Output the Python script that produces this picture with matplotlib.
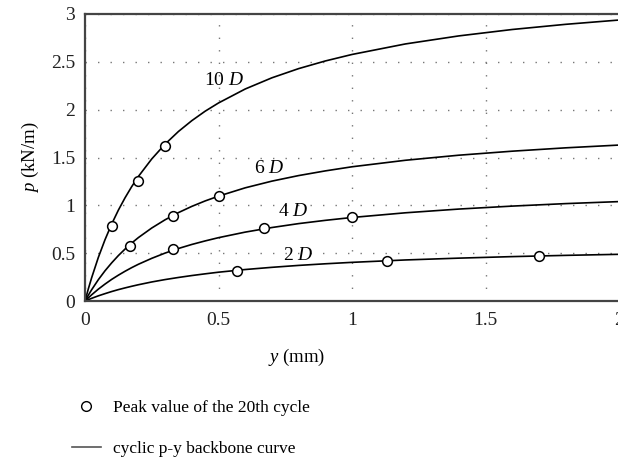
import numpy as np
import matplotlib
matplotlib.use("Agg")
import matplotlib.pyplot as plt
from matplotlib.lines import Line2D

plt.rcParams['font.family'] = ['Liberation Serif', 'DejaVu Serif']
plt.rcParams['mathtext.fontset'] = 'custom'
plt.rcParams['mathtext.rm'] = 'Liberation Serif'
plt.rcParams['mathtext.it'] = 'Liberation Serif:italic'

## Backbone curves, p (kN/m) against y (mm)
y_curve = [0, 0.0125, 0.025, 0.05, 0.075, 0.1, 0.125, 0.15, 0.175, 0.2, 0.25,
           0.3, 0.35, 0.4, 0.45, 0.5, 0.6, 0.7, 0.8, 0.9,
           1.0, 1.2, 1.4, 1.6, 1.8, 2.0]
p_10d = [0, 0.127, 0.244, 0.456, 0.641, 0.805, 0.950, 1.079, 1.196, 1.302, 1.485,
         1.640, 1.772, 1.885, 1.984, 2.070, 2.216, 2.333, 2.429, 2.509,
         2.577, 2.687, 2.771, 2.838, 2.892, 2.937]
p_6d = [0, 0.061, 0.118, 0.223, 0.316, 0.399, 0.475, 0.543, 0.606, 0.663, 0.763,
        0.849, 0.924, 0.989, 1.046, 1.096, 1.183, 1.253, 1.311, 1.360,
        1.403, 1.471, 1.524, 1.566, 1.601, 1.630]
p_4d = [0, 0.033, 0.065, 0.124, 0.177, 0.226, 0.270, 0.311, 0.349, 0.384, 0.446,
        0.501, 0.549, 0.591, 0.628, 0.662, 0.720, 0.768, 0.809, 0.843,
        0.873, 0.922, 0.961, 0.992, 1.018, 1.039]
p_2d = [0, 0.014, 0.028, 0.054, 0.077, 0.099, 0.119, 0.137, 0.154, 0.170, 0.199,
        0.224, 0.246, 0.266, 0.284, 0.301, 0.329, 0.352, 0.372, 0.389,
        0.404, 0.429, 0.448, 0.464, 0.477, 0.488]

## Peak values of the 20th cycle
y_pk_10d = [0.10, 0.20, 0.30]
p_pk_10d = [0.78, 1.25, 1.62]
y_pk_6d = [0.17, 0.33, 0.50]
p_pk_6d = [0.58, 0.89, 1.10]
y_pk_4d = [0.33, 0.67, 1.00]
p_pk_4d = [0.54, 0.76, 0.88]
y_pk_2d = [0.57, 1.13, 1.70]
p_pk_2d = [0.31, 0.42, 0.47]

labels = ['10 $D$', '6 $D$', '4 $D$', '2 $D$']
label_xy = [(0.52, 2.31), (0.69, 1.38), (0.78, 0.94), (0.80, 0.48)]

fig = plt.figure(figsize=(6.18, 4.62), dpi=100)
ax = fig.add_axes([85/618, 161/462, 534/618, 287/462])

for p in [p_10d, p_6d, p_4d, p_2d]:
    ax.plot(y_curve, p, color='k', lw=1.2)

for yy, pp in [(y_pk_10d, p_pk_10d), (y_pk_6d, p_pk_6d),
               (y_pk_4d, p_pk_4d), (y_pk_2d, p_pk_2d)]:
    ax.plot(yy, pp, 'o', mfc='white', mec='k', ms=7, mew=1.1, zorder=3)

for lab, (tx, ty) in zip(labels, label_xy):
    ax.text(tx, ty, lab, fontsize=14, ha='center', va='center')

ax.set_xlim(0, 2)
ax.set_ylim(0, 3)
ax.set_xticks([0, 0.5, 1, 1.5, 2])
ax.set_xticklabels(['0', '0.5', '1', '1.5', '2'])
ax.set_yticks([0, 0.5, 1, 1.5, 2, 2.5, 3])
ax.set_yticklabels(['0', '0.5', '1', '1.5', '2', '2.5', '3'])
ax.tick_params(length=0, labelsize=14, colors='#222222')
ax.tick_params(axis='x', pad=8)
ax.tick_params(axis='y', pad=7)
ax.grid(True, color='#777777', linestyle=(0, (1, 8)), linewidth=1.0)

for s in ['left', 'bottom', 'top']:
    ax.spines[s].set_color('#444444')
    ax.spines[s].set_linewidth(1.6)
ax.spines['right'].set_visible(False)

fig.text(297/618, 1 - 357/462, '$y$ (mm)', fontsize=13.5, ha='center', va='center')
fig.text(30/618, 1 - 157/462, '$p$ (kN/m)', fontsize=13.5, ha='center', va='center',
         rotation=90)

handles = [Line2D([], [], marker='o', ls='none', mfc='white', mec='k', ms=7, mew=1.0),
           Line2D([], [], color='#555555', lw=1.2)]
fig.legend(handles, ['Peak value of the 20th cycle', 'cyclic p-y backbone curve'],
           loc='upper left', bbox_to_anchor=(72/618, 1 - 400/462), frameon=False,
           fontsize=12.5, handlelength=1.65, handletextpad=0.7, labelspacing=1.45,
           borderaxespad=0, borderpad=0)

fig.savefig('out.png', dpi=100)
